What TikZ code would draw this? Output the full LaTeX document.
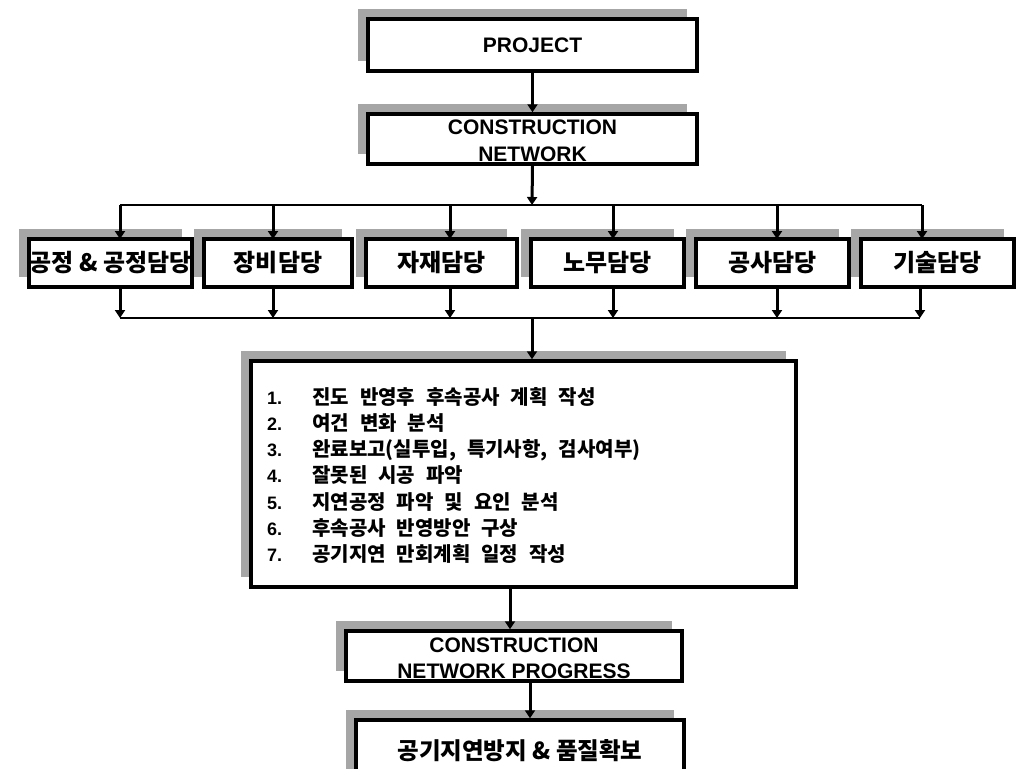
\documentclass[tikz,border=0pt]{standalone}
\usepackage{fontspec}
\setmainfont{Liberation Sans}
\newfontfamily\kr{Noto Sans CJK KR}[WordSpace=2.4, Scale=1.001]
\newfontfamily\krb{Noto Sans CJK KR}[WordSpace=1.0]
\usetikzlibrary{arrows.meta,shadows}
\begin{document}
\begin{tikzpicture}[x=1pt,y=-1pt,
  box/.style={draw, line width=3.5pt, fill=white, inner sep=0pt,
    drop shadow={shadow xshift=-10pt, shadow yshift=10pt, fill=black!35, opacity=1}},
  lat/.style={font=\fontsize{21}{25}\selectfont\bfseries, align=center},
  krbox/.style={font=\krb\fontsize{24}{28}\selectfont\bfseries},
  item/.style={anchor=base west, inner sep=0pt, font=\kr\fontsize{20}{24}\selectfont\bfseries},
  num/.style={anchor=base west, inner sep=0pt, font=\fontsize{18}{22}\selectfont\bfseries},
  conn/.style={line width=3pt, -{Triangle[width=10pt,length=8pt]}},
  bus/.style={line width=2pt}]
\useasboundingbox (0,0) rectangle (1022,768);
\clip (0,0) rectangle (1022,768);

% top chain
\node[box, lat, minimum width=329pt, minimum height=52pt] (proj) at (532.5,45) {PROJECT};
\node[box, lat, minimum width=329pt, minimum height=50pt] (cn) at (532.5,139) {};
\node[lat, inner sep=0pt] (cnt) at (532.5,141) {CONSTRUCTION\\[1.5pt]NETWORK};

% six boxes
\node[box, krbox, minimum width=163pt, minimum height=48pt] (b1) at (110.5,263) {공정 \& 공정담당};
\node[box, krbox, minimum width=148pt, minimum height=48pt] (b2) at (278,263) {장비담당};
\node[box, krbox, minimum width=151pt, minimum height=48pt] (b3) at (441.5,263) {자재담당};
\node[box, krbox, minimum width=153pt, minimum height=48pt] (b4) at (607.5,263) {노무담당};
\node[box, krbox, minimum width=153pt, minimum height=48pt] (b5) at (772.5,263) {공사담당};
\node[box, krbox, minimum width=153pt, minimum height=48pt] (b6) at (937.5,263) {기술담당};

% big box
\node[box, minimum width=545pt, minimum height=226pt] (big) at (523.5,474) {};
\node[num] (n1) at (267,404) {1.};
\node[num] (n2) at (267,430.3) {2.};
\node[num] (n3) at (267,456.6) {3.};
\node[num] (n4) at (267,482.9) {4.};
\node[num] (n5) at (267,509.2) {5.};
\node[num] (n6) at (267,535.5) {6.};
\node[num] (n7) at (267,561.8) {7.};
\node[item] (t1) at (312,404) {진도 반영후 후속공사 계획 작성};
\node[item] (t2) at (312,430.3) {여건 변화 분석};
\node[item] (t3) at (312,456.6) {완료보고(실투입, 특기사항, 검사여부)};
\node[item] (t4) at (312,482.9) {잘못된 시공 파악};
\node[item] (t5) at (312,509.2) {지연공정 파악 및 요인 분석};
\node[item] (t6) at (312,535.5) {후속공사 반영방안 구상};
\node[item] (t7) at (312,561.8) {공기지연 만회계획 일정 작성};

% progress box
\node[box, lat, minimum width=336pt, minimum height=50pt] (cnp) at (514,656) {};
\node[lat, inner sep=0pt] (cnpt) at (514,658.5) {CONSTRUCTION\\[1.5pt]NETWORK PROGRESS};

% final box
\node[box, minimum width=328pt, minimum height=80pt] (fin) at (520,760) {};
\node[font=\krb\fontsize{23.5}{28}\selectfont\bfseries] (fint) at (520,751) {공기지연방지 \& 품질확보};

% buses
\coordinate (busT) at (532,205);
\coordinate (busB) at (532,318);
\coordinate (tl) at (120,205);
\coordinate (tr) at (922,205);
\coordinate (bl) at (120,318);
\coordinate (br) at (920,318);
\draw[bus] (tl) -- (tr);
\draw[bus] (bl) -- (br);

% connectors
\draw[conn] (proj.south) -- (cn.north);
\draw[conn] (cn.south) -- (busT);

\draw[conn] (120,205) -- (120,239);
\draw[conn] (273,205) -- (273,239);
\draw[conn] (450,205) -- (450,239);
\draw[conn] (613,205) -- (613,239);
\draw[conn] (777,205) -- (777,239);
\draw[conn] (922,205) -- (922,239);

\draw[conn] (120,287) -- (120,318);
\draw[conn] (273,287) -- (273,318);
\draw[conn] (450,287) -- (450,318);
\draw[conn] (613,287) -- (613,318);
\draw[conn] (777,287) -- (777,318);
\draw[conn] (920,287) -- (920,318);

\draw[conn] (busB) -- (big.north -| busB);
\draw[conn] ([xshift=-13.5pt]big.south) -- ([xshift=-4pt]cnp.north);
\draw[conn] ([xshift=16pt]cnp.south) -- ([xshift=10pt]fin.north);
\end{tikzpicture}
\end{document}
